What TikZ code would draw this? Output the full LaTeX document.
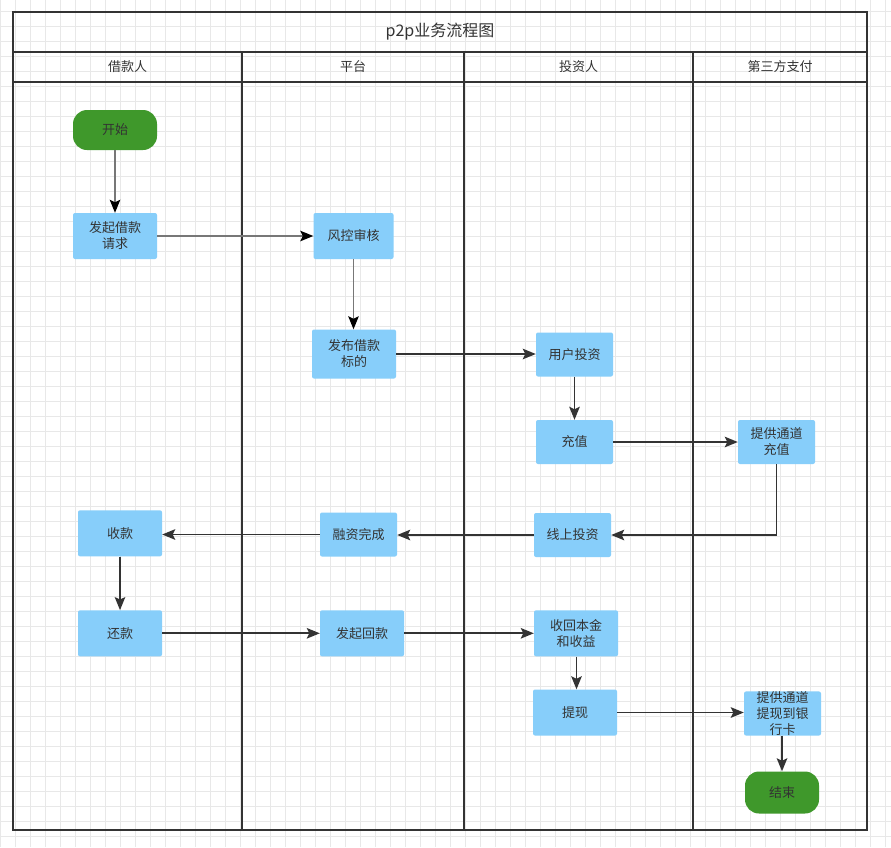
\documentclass[tikz,border=0pt]{standalone}
\usepackage{fontspec}
\setmainfont{Noto Sans CJK SC}
\usetikzlibrary{arrows.meta}
\definecolor{boxblue}{HTML}{87CEFA}
\definecolor{termgreen}{HTML}{3F982B}
\definecolor{ink}{HTML}{333333}
\definecolor{gridc}{HTML}{E8E8E8}
\definecolor{glinkc}{HTML}{777777}
\tikzset{
  proc/.style={fill=boxblue, draw=none, rounded corners=2pt, inner sep=0pt, align=center,
    text=ink, font=\fontsize{13}{16}\selectfont},
  term/.style={fill=termgreen, draw=none, rounded corners=14pt, inner sep=0pt, align=center,
    text=ink, font=\fontsize{13}{16}\selectfont},
  hdr/.style={text=ink, inner sep=0pt, font=\fontsize{13}{16}\selectfont},
  frame/.style={draw=ink, line width=2pt},
  glink/.style={draw=glinkc, line width=1.2pt, arrows={-{Stealth[length=13pt,width=10.5pt,inset=2.5pt,color=black]}}},
  dlink/.style={draw=ink, line width=1.8pt, arrows={-{Stealth[length=13pt,width=10.5pt,inset=2.5pt]}}},
}
\begin{document}
\begin{tikzpicture}[x=1pt,y=-1pt]
\useasboundingbox (0,0) rectangle (891,847);
\fill[white] (0,0) rectangle (891,847);
% grid
\foreach \gx in {0.7,15.7,...,891} \draw[gridc, line width=1pt] (\gx,0) -- (\gx,847);
\foreach \gy in {11.5,26.5,...,847} \draw[gridc, line width=1pt] (0,\gy) -- (891,\gy);
% frame
\draw[frame] (13,12) rectangle (867,830);
\draw[frame] (13,52) -- (867,52);
\draw[frame] (13,82) -- (867,82);
\draw[frame] (242,52) -- (242,830);
\draw[frame] (464,52) -- (464,830);
\draw[frame] (693,52) -- (693,830);
\node[text=ink, inner sep=0pt, font=\fontsize{16}{19}\selectfont] (title) at (440,32) {p2p业务流程图};
\node[hdr] (h1) at (127.5,67) {借款人};
\node[hdr] (h2) at (353,67) {平台};
\node[hdr] (h3) at (578.5,67) {投资人};
\node[hdr] (h4) at (780,67) {第三方支付};
% nodes
\node[term, minimum width=84pt, minimum height=40pt] (start) at (115,130) {开始};
\node[proc, minimum width=84pt, minimum height=46pt] (fqjk) at (115,236) {发起借款\\请求};
\node[proc, minimum width=80pt, minimum height=46pt] (fksh) at (353.5,236) {风控审核};
\node[proc, minimum width=84pt, minimum height=49pt] (fbjk) at (354,354) {发布借款\\标的};
\node[proc, minimum width=77pt, minimum height=44pt] (yhtz) at (574.5,354.5) {用户投资};
\node[proc, minimum width=77pt, minimum height=44pt] (cz) at (574.5,442) {充值};
\node[proc, minimum width=77pt, minimum height=44pt] (tdcz) at (776.5,442) {提供通道\\充值};
\node[proc, minimum width=77pt, minimum height=44pt] (xstz) at (572.5,535) {线上投资};
\node[proc, minimum width=77pt, minimum height=44pt] (rzwc) at (358.5,534.5) {融资完成};
\node[proc, minimum width=84pt, minimum height=46pt] (sk) at (120,533.3) {收款};
\node[proc, minimum width=84pt, minimum height=46pt] (hk) at (120,633.3) {还款};
\node[proc, minimum width=84pt, minimum height=46pt] (fqhk) at (362,633.3) {发起回款};
\node[proc, minimum width=84pt, minimum height=46pt] (shbj) at (576,633.3) {收回本金\\和收益};
\node[proc, minimum width=84pt, minimum height=46pt] (tx) at (575,712.5) {提现};
\node[proc, minimum width=77pt, minimum height=44pt] (tdtx) at (782.5,713.5) {提供通道\\提现到银\\行卡};
\node[term, minimum width=74pt, minimum height=42pt] (end) at (782,792.5) {结束};
% connectors
\draw[glink] (start.south) -- (fqjk.north);
\draw[glink] (fqjk.east) -- (fksh.west);
\draw[glink] (fksh.south) -- (fksh.south |- fbjk.north);
\draw[dlink] (fbjk.east) -- (fbjk.east -| yhtz.west);
\draw[dlink] (yhtz.south) -- (cz.north);
\draw[dlink] (cz.east) -- (tdcz.west);
\draw[dlink] (tdcz.south) |- (xstz.east);
\draw[dlink] (xstz.west) -- (xstz.west -| rzwc.east);
\draw[dlink] (rzwc.west) -- (rzwc.west -| sk.east);
\draw[dlink] (sk.south) -- (hk.north);
\draw[dlink] (hk.east) -- (fqhk.west);
\draw[dlink] (fqhk.east) -- (shbj.west);
\draw[dlink] (shbj.south -| 576.5,0) -- (576.5,0 |- tx.north);
\draw[dlink] (tx.east) -- (tx.east -| tdtx.west);
\draw[dlink] (tdtx.south -| end.north) -- (end.north);
\end{tikzpicture}
\end{document}
